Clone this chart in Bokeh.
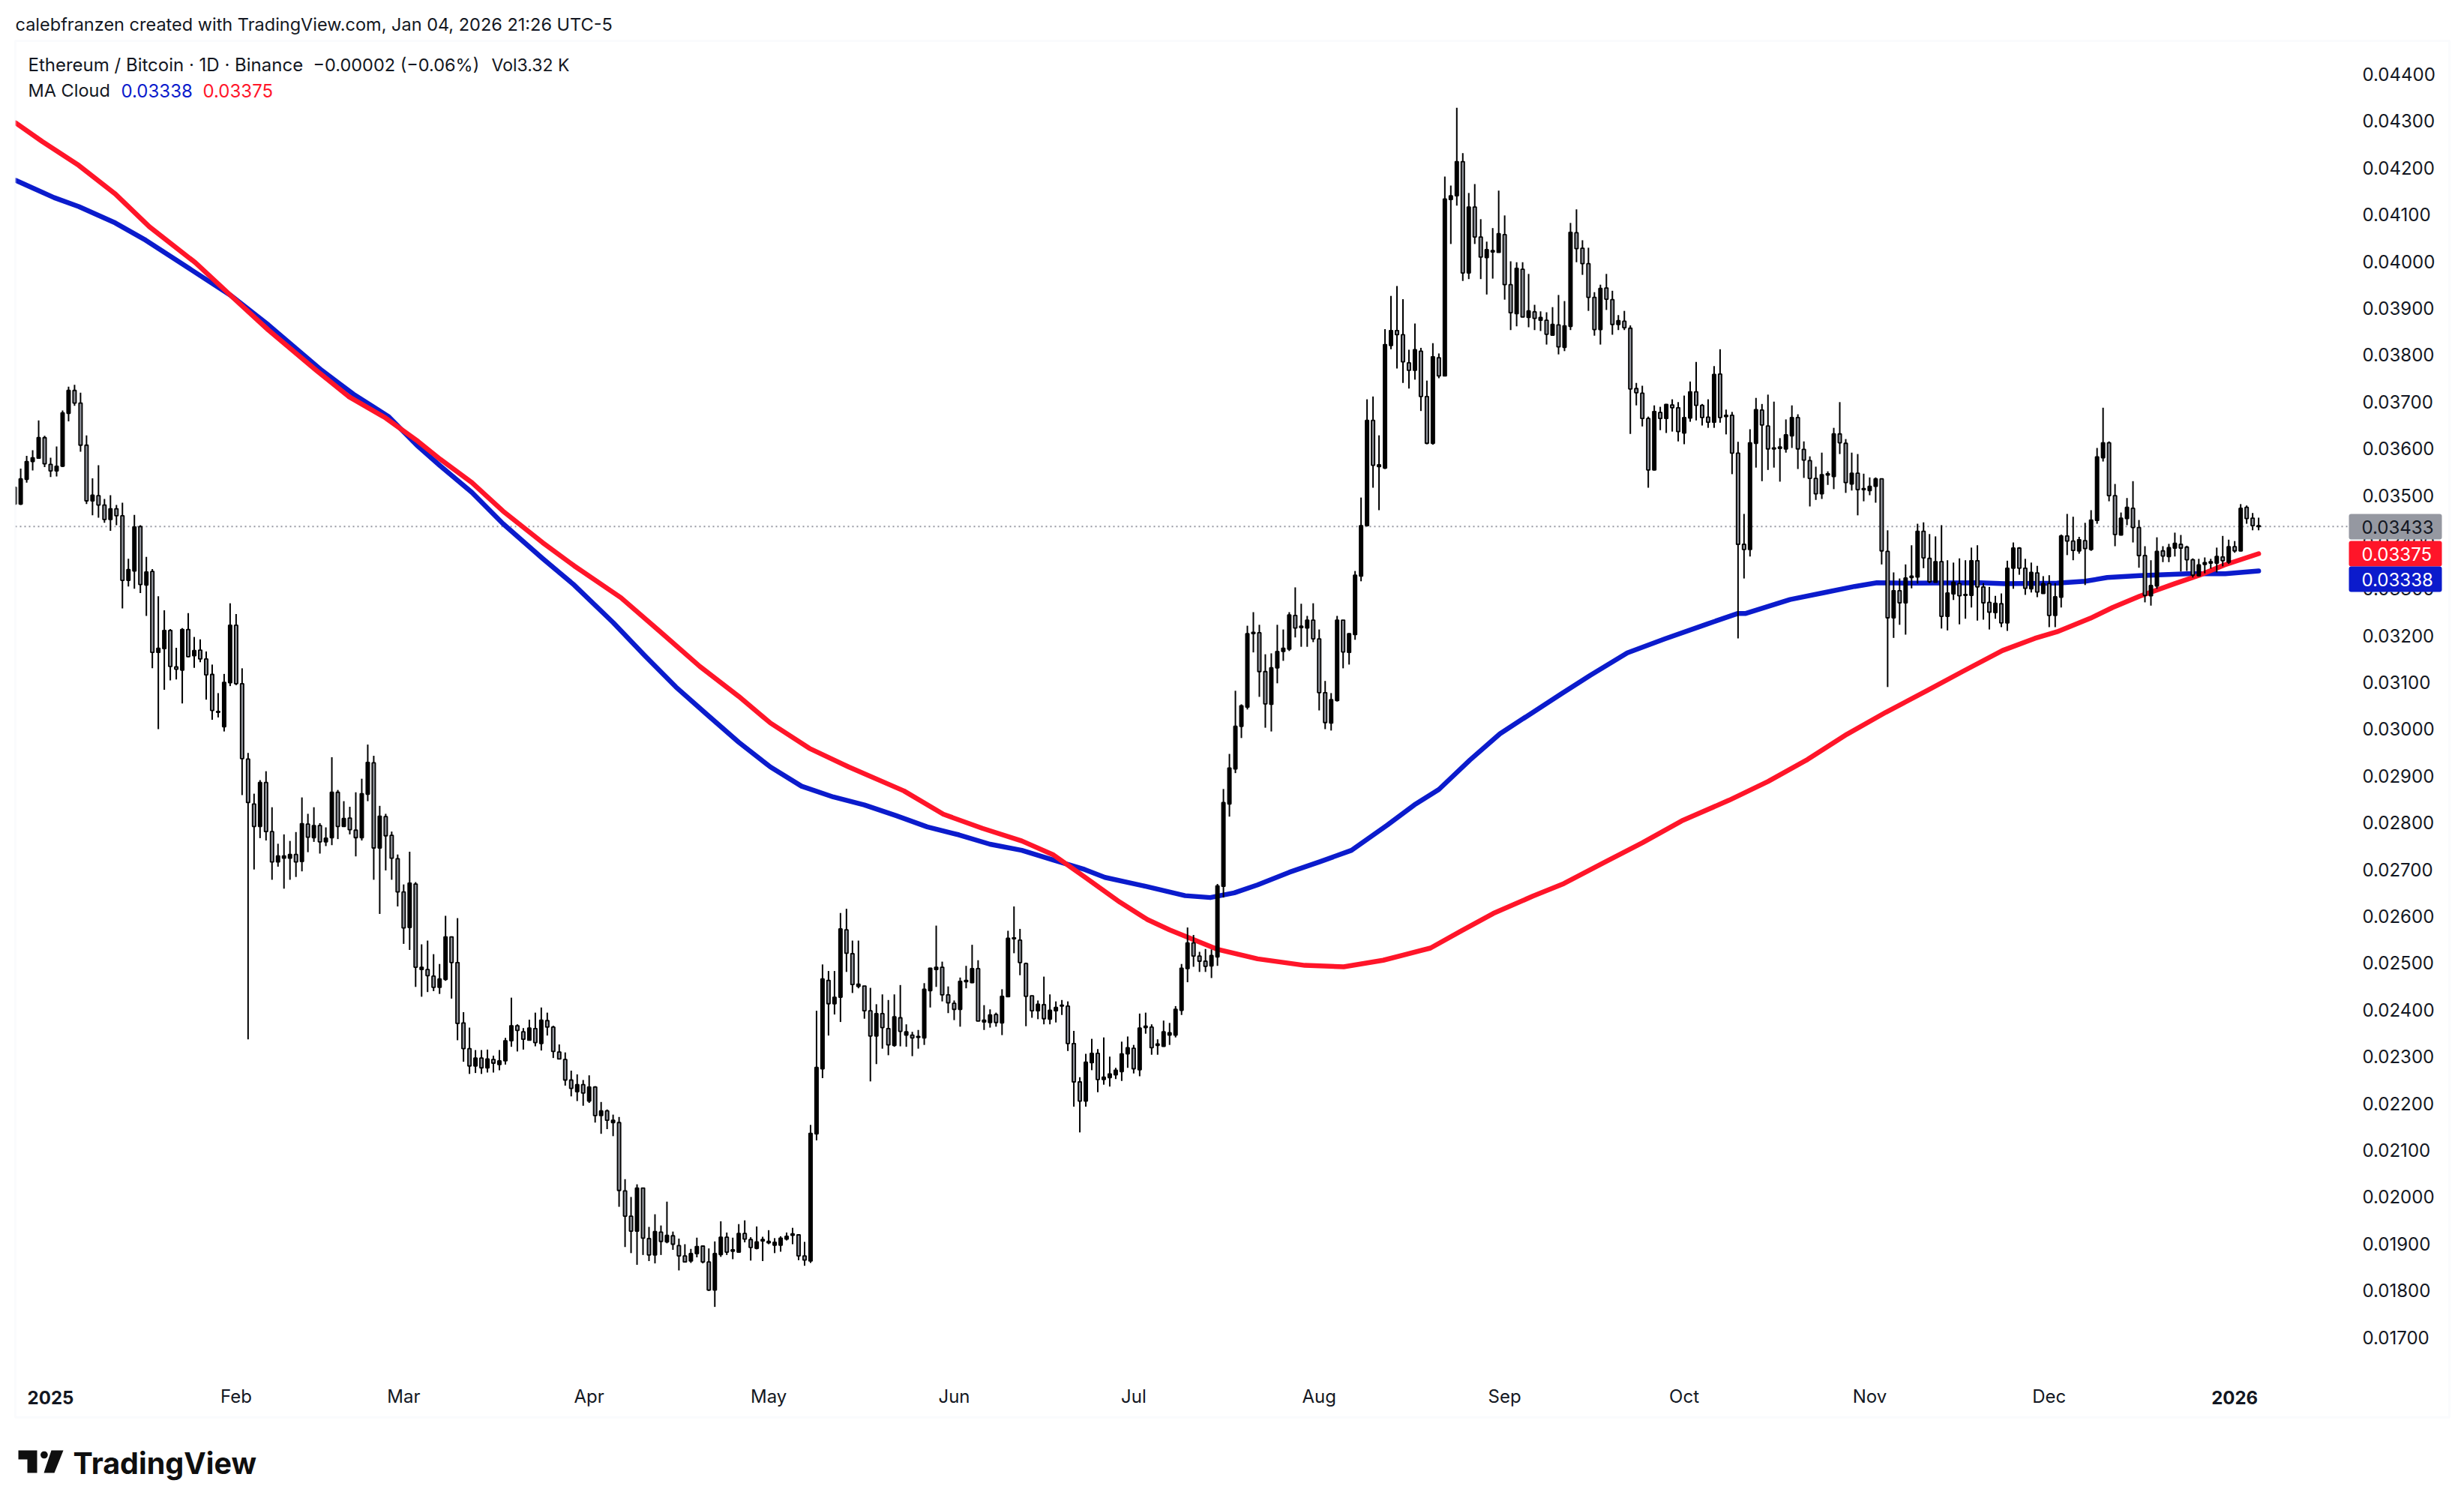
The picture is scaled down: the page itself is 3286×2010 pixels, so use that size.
import math
from bokeh.embed import file_html
from bokeh.resources import INLINE
from bokeh.plotting import figure
from bokeh.models import (BoxAnnotation, ColumnDataSource, FixedTicker, Label,
                          NumeralTickFormatter, PolyAnnotation, Range1d)

UNIT = 1e-5  # all prices below are listed in 0.00001 BTC

FIRST_DAY = -1  # candle index, 0 = 27 Dec 2024
OPEN = [
 3481,3481,3534,3572,3579,3623,3566,3552,3562,3675,3724,3697,3607,3488,3499,3479,3448,3471,3456,3318,
 3338,3433,3308,3337,3164,3172,3211,3133,3126,3213,3157,3169,3150,3117,3036,3005,3099,3222,3097,2936,
 2840,2792,2886,2781,2716,2724,2724,2732,2717,2797,2768,2794,2759,2768,2865,2792,2810,2784,2768,2861,
 2928,2746,2813,2773,2723,2652,2576,2669,2486,2486,2472,2448,2465,2556,2501,2372,2317,2280,2297,2276,
 2294,2283,2291,2334,2366,2353,2335,2360,2328,2377,2363,2310,2294,2250,2225,2240,2205,2235,2174,2184,
 2159,2159,2013,1959,1927,2019,1911,1876,1925,1904,1917,1896,1874,1863,1879,1895,1861,1801,1877,1914,
 1884,1882,1922,1909,1890,1906,1902,1897,1897,1910,1918,1919,1874,1863,2135,2274,2463,2413,2427,2571,
 2520,2450,2451,2398,2344,2392,2360,2324,2383,2346,2346,2341,2340,2441,2486,2491,2432,2414,2401,2460,
 2458,2488,2374,2373,2390,2372,2428,2552,2549,2499,2430,2398,2411,2380,2398,2408,2408,2328,2246,2205,
 2287,2307,2251,2255,2261,2268,2306,2318,2272,2362,2363,2324,2322,2346,2346,2399,2488,2543,2515,2504,
 2494,2513,2664,2840,2915,3006,3047,3204,3206,3123,3053,3131,3166,3171,3243,3217,3216,3233,3193,3078,
 3013,3061,3233,3164,3202,3327,3435,3660,3561,3558,3820,3852,3843,3783,3767,3808,3711,3611,3794,3755,
 4132,4140,4213,3975,4116,4052,4008,4020,4019,4057,3950,3888,3983,3880,3892,3874,3874,3842,3864,3816,
 3861,4061,4028,3995,3923,3854,3943,3918,3865,3872,3857,3728,3718,3664,3554,3677,3664,3693,3687,3633,
 3665,3721,3692,3667,3656,3759,3668,3671,3590,3395,3384,3611,3682,3648,3599,3600,3599,3627,3666,3598,
 3574,3536,3503,3543,3540,3631,3611,3524,3547,3512,3510,3519,3535,3380,3238,3296,3270,3324,3325,3423,
 3365,3314,3358,3241,3289,3311,3286,3286,3360,3304,3271,3249,3268,3227,3344,3387,3344,3300,3334,3290,
 3311,3243,3282,3413,3402,3381,3403,3384,3446,3580,3612,3499,3415,3450,3472,3431,3371,3285,3306,3381,
 3369,3387,3395,3389,3362,3328,3352,3355,3355,3368,3357,3390,3381,3474,3451,3435,
]
HIGH = [
 3517,3557,3584,3596,3660,3627,3580,3604,3681,3732,3736,3719,3628,3536,3564,3492,3500,3479,3484,3364,
 3458,3436,3368,3342,3284,3254,3214,3174,3216,3248,3197,3192,3166,3138,3077,3118,3269,3246,3130,2949,
 2862,2891,2910,2833,2755,2775,2761,2780,2854,2819,2833,2799,2790,2940,2870,2846,2834,2865,2894,2967,
 2943,2836,2819,2781,2732,2668,2738,2673,2540,2548,2519,2498,2601,2557,2596,2395,2362,2314,2314,2315,
 2302,2314,2340,2426,2369,2361,2379,2394,2405,2394,2366,2326,2309,2270,2262,2250,2260,2237,2203,2187,
 2176,2171,2038,2000,2027,2019,1936,1963,1939,1990,1926,1911,1899,1889,1913,1895,1890,1905,1948,1924,
 1913,1942,1950,1914,1937,1915,1929,1912,1916,1924,1934,1920,1904,2154,2398,2497,2483,2483,2607,2616,
 2548,2548,2451,2447,2412,2433,2421,2433,2453,2369,2353,2357,2457,2490,2580,2503,2450,2420,2469,2494,
 2539,2506,2410,2401,2394,2444,2569,2621,2573,2501,2430,2420,2471,2433,2418,2421,2418,2355,2256,2306,
 2338,2316,2341,2300,2276,2332,2343,2325,2392,2394,2369,2337,2377,2372,2408,2498,2576,2560,2524,2530,
 2529,2669,2872,2947,3082,3053,3221,3250,3223,3160,3162,3223,3213,3250,3303,3268,3242,3269,3213,3103,
 3077,3242,3233,3205,3338,3495,3705,3711,3628,3855,3926,3947,3919,3811,3867,3815,3745,3825,3803,4181,
 4162,4328,4231,4146,4165,4090,4042,4071,4151,4098,4000,3998,3998,3973,3907,3893,3891,3902,3928,3915,
 4082,4111,4045,4029,3934,3950,3973,3937,3885,3894,3863,3740,3734,3668,3692,3689,3695,3705,3699,3713,
 3743,3785,3695,3705,3776,3812,3683,3678,3614,3460,3641,3708,3695,3715,3700,3622,3662,3692,3673,3615,
 3583,3561,3591,3551,3644,3699,3620,3591,3588,3546,3538,3538,3536,3425,3335,3322,3352,3393,3439,3442,
 3417,3412,3436,3361,3356,3365,3361,3388,3393,3312,3304,3285,3290,3360,3399,3389,3364,3356,3349,3327,
 3329,3312,3416,3460,3454,3411,3441,3468,3601,3687,3615,3524,3463,3494,3530,3447,3391,3361,3410,3391,
 3396,3420,3415,3392,3365,3364,3367,3364,3388,3413,3405,3402,3481,3478,3462,3452,
]
LOW = [
 3481,3479,3527,3553,3579,3560,3539,3540,3560,3658,3691,3593,3481,3457,3452,3441,3424,3436,3258,3305,
 3300,3291,3242,3130,3000,3084,3104,3106,3055,3154,3131,3143,3063,3020,3025,2995,3092,3094,2859,2337,
 2700,2767,2762,2678,2706,2659,2678,2684,2696,2737,2759,2734,2750,2752,2765,2792,2775,2728,2762,2846,
 2678,2605,2698,2678,2621,2541,2528,2449,2428,2438,2440,2434,2462,2424,2335,2289,2263,2265,2263,2266,
 2266,2271,2283,2321,2311,2315,2335,2322,2313,2345,2297,2295,2238,2215,2205,2195,2201,2159,2135,2145,
 2130,1979,1893,1880,1855,1876,1863,1858,1876,1901,1887,1843,1860,1859,1871,1858,1799,1765,1872,1876,
 1867,1882,1903,1864,1888,1863,1899,1880,1883,1907,1899,1865,1853,1859,2121,2254,2345,2390,2374,2481,
 2436,2446,2381,2247,2284,2317,2303,2321,2322,2321,2301,2317,2325,2405,2449,2418,2393,2378,2364,2446,
 2457,2376,2357,2362,2364,2346,2428,2521,2474,2365,2383,2380,2369,2369,2373,2389,2312,2193,2138,2193,
 2271,2224,2240,2236,2252,2248,2276,2264,2258,2349,2304,2304,2321,2325,2341,2389,2459,2492,2481,2481,
 2468,2494,2640,2813,2906,2981,3042,3164,3069,3003,2995,3098,3146,3167,3196,3176,3176,3186,3040,3000,
 2997,3059,3130,3138,3191,3316,3433,3516,3468,3556,3812,3771,3740,3728,3747,3680,3609,3608,3750,3754,
 4037,4119,3958,3962,4037,3962,3929,3963,4019,3918,3853,3861,3881,3859,3853,3851,3822,3842,3801,3808,
 3853,3998,3971,3894,3841,3822,3896,3843,3853,3853,3631,3692,3647,3516,3553,3639,3633,3636,3615,3609,
 3657,3660,3649,3644,3644,3655,3630,3545,3194,3322,3369,3559,3530,3554,3559,3529,3591,3601,3556,3537,
 3476,3490,3492,3522,3513,3588,3505,3510,3457,3487,3500,3484,3352,3090,3195,3223,3202,3301,3311,3344,
 3312,3314,3215,3211,3276,3224,3236,3260,3232,3234,3213,3236,3218,3210,3300,3330,3287,3292,3282,3290,
 3218,3218,3260,3372,3361,3375,3308,3381,3439,3572,3487,3391,3414,3436,3399,3345,3271,3264,3300,3357,
 3357,3369,3337,3338,3324,3326,3333,3343,3335,3348,3353,3377,3380,3439,3425,3425,
]
CLOSE = [
 3517,3535,3572,3580,3623,3567,3552,3562,3676,3724,3697,3607,3488,3500,3479,3448,3471,3456,3318,3341,
 3432,3309,3336,3164,3173,3211,3134,3128,3213,3155,3168,3150,3116,3040,3038,3100,3222,3097,2937,2843,
 2792,2886,2781,2716,2729,2729,2732,2716,2798,2769,2794,2759,2767,2865,2792,2809,2785,2768,2862,2929,
 2746,2814,2772,2724,2652,2575,2671,2491,2491,2473,2448,2466,2556,2501,2371,2317,2280,2297,2276,2295,
 2286,2291,2334,2366,2356,2337,2361,2330,2378,2363,2311,2295,2250,2232,2240,2222,2235,2174,2184,2164,
 2164,2014,1959,1927,2019,1912,1876,1926,1905,1918,1899,1874,1861,1879,1894,1861,1801,1879,1914,1882,
 1887,1922,1910,1892,1904,1909,1905,1903,1912,1916,1921,1874,1865,2136,2277,2466,2413,2427,2573,2521,
 2454,2455,2398,2344,2392,2362,2325,2385,2354,2353,2340,2343,2444,2489,2491,2432,2415,2401,2461,2463,
 2488,2376,2378,2389,2373,2429,2553,2554,2501,2429,2398,2412,2381,2399,2405,2410,2328,2246,2205,2288,
 2307,2251,2256,2263,2271,2306,2319,2274,2361,2365,2319,2327,2353,2351,2401,2489,2543,2515,2504,2493,
 2516,2665,2843,2917,3006,3050,3204,3207,3123,3054,3131,3166,3173,3244,3216,3220,3233,3193,3078,3014,
 3063,3233,3165,3204,3329,3435,3660,3564,3565,3822,3852,3843,3785,3767,3811,3711,3611,3796,3755,4133,
 4140,4213,3975,4116,4052,4009,4025,4023,4059,3950,3890,3985,3881,3894,3878,3880,3844,3865,3817,3862,
 4062,4027,3995,3923,3854,3942,3919,3865,3873,3858,3727,3719,3664,3554,3679,3664,3694,3687,3636,3666,
 3721,3692,3666,3656,3758,3666,3671,3590,3395,3384,3612,3683,3650,3599,3601,3603,3629,3666,3599,3575,
 3536,3503,3544,3546,3631,3612,3527,3547,3512,3514,3519,3535,3381,3238,3296,3270,3323,3327,3423,3366,
 3315,3358,3241,3291,3314,3285,3288,3360,3304,3270,3250,3269,3227,3344,3387,3344,3301,3335,3293,3311,
 3243,3283,3413,3402,3382,3405,3386,3447,3582,3612,3499,3416,3451,3474,3431,3371,3286,3307,3380,3370,
 3388,3397,3387,3362,3329,3351,3356,3358,3369,3360,3390,3381,3472,3450,3435,3433,
]

BLUE_DAY = [-0.84,5.6,9.7,15.8,20.9,28.6,35,41.4,50.3,55.6,61.5,66.2,70.1,75.4,80.6,87.2,92.5,99,104.3,109.5,
            114.8,120,125.3,130.5,135.8,141,146.3,151.5,156.8,162,167.3,172.6,177.8,181.2,188,194.6,198.8,202.8,
            206.7,212,217.2,222.4,228.4,232.9,237,242.2,247.2,252.6,257.4,262.3,268.5,274.8,281.9,286.9,288.2,
            295.7,301.5,306.5,310.2,316.5,327.4,331.6,340.3,345,348.7,354.1,362.1,368.4,374]
BLUE_MA = [4173,4136,4117,4082,4045,3981,3928,3864,3767,3716,3668,3607,3563,3506,3439,3365,3308,3228,3157,3090,
           3030,2972,2919,2878,2855,2838,2815,2791,2774,2754,2741,2720,2700,2683,2664,2644,2640,2650,2667,2694,
           2717,2741,2795,2838,2871,2934,2990,3035,3075,3115,3163,3193,3225,3247,3247,3277,3292,3305,3313,3312,
           3313,3311,3312,3316,3324,3328,3332,3332,3338]
RED_DAY = [-0.84,3.6,9.7,15.8,21.5,29.2,35,41.4,49.4,54.8,61,66.4,70.1,75.4,80.6,87.2,92.5,100.3,106.9,113.5,
           120,125.3,131.8,138.4,147.6,154.2,160.7,167.3,172.6,177.8,183.7,188.3,192,200.1,206.7,214.6,221.1,
           227.7,235.6,240.8,246.1,252.7,257.9,264.5,271,277.6,285.5,292,298.6,305.2,311.7,318.7,324.5,331.2,
           336.6,340.3,345.9,349.6,354.1,360,364.1,368.3,374]
RED_MA = [4296,4256,4205,4144,4074,3997,3928,3853,3767,3711,3665,3615,3577,3527,3466,3399,3349,3281,3208,3134,
          3070,3013,2959,2919,2868,2818,2788,2761,2731,2684,2630,2593,2571,2529,2509,2495,2492,2506,2532,2569,
          2606,2643,2670,2714,2757,2804,2848,2888,2935,2989,3036,3083,3123,3168,3194,3208,3237,3260,3284,3311,
          3329,3351,3375]

Y_TICKS = [0.017,0.018,0.019,0.020,0.021,0.022,0.023,0.024,0.025,0.026,0.027,0.028,0.029,0.030,
           0.031,0.032,0.033,0.034,0.035,0.036,0.037,0.038,0.039,0.040,0.041,0.042,0.043,0.044]
MONTH_DAY = [36,64,95,125,156,186,217,248,278,309,339]
MONTH_NAME = ["Feb","Mar","Apr","May","Jun","Jul","Aug","Sep","Oct","Nov","Dec"]
YEAR_DAY = [5,370]
YEAR_NAME = ["2025","2026"]
LAST_PRICE, MA_LOW, MA_HIGH = 0.03433, 0.03338, 0.03375

assert len(OPEN) == len(HIGH) == len(LOW) == len(CLOSE) == 376
assert len(BLUE_DAY) == len(BLUE_MA) and len(RED_DAY) == len(RED_MA)

BLUE, RED, INK = "#0B1BCC", "#FF1529", "#131722"
FONT = "Inter"
W, H = 3280, 2000

PX_PER_DAY = 7.98
X0 = 27.1  # page px of day 0
def px_x(d): return X0 + d * PX_PER_DAY
def day_at(X): return (X - X0) / PX_PER_DAY
def price_at(Y): return (3500 - (Y - 660) * 1.6026) * UNIT

# the frame fills the whole canvas, so captions and tags can sit anywhere on it
p = figure(width=W, height=H, output_backend="svg", toolbar_location=None,
           x_range=Range1d(day_at(0), day_at(W)), y_range=Range1d(price_at(H), price_at(0)),
           min_border=0, x_axis_location="below", y_axis_location="right",
           background_fill_color="white", border_fill_color="white", outline_line_color=None)
p.grid.visible = False

yax = p.yaxis[0]
yax.ticker = FixedTicker(ticks=Y_TICKS)
yax.formatter = NumeralTickFormatter(format="0.00000")
yax.fixed_location = day_at(3132)
xax = p.xaxis[0]
xax.ticker = FixedTicker(ticks=MONTH_DAY)
xax.major_label_overrides = {d: n for d, n in zip(MONTH_DAY, MONTH_NAME)}
xax.fixed_location = price_at(1829)
for ax in (xax, yax):
    ax.axis_line_color = None
    ax.major_tick_line_color = None
    ax.minor_tick_line_color = None
    ax.major_label_text_font = FONT
    ax.major_label_text_font_size = "24px"
    ax.major_label_text_color = INK
yax.major_label_standoff = 12
xax.major_label_standoff = 12

days = [FIRST_DAY + i for i in range(len(OPEN))]
src = ColumnDataSource(dict(
    day=days,
    high=[v * UNIT for v in HIGH], low=[v * UNIT for v in LOW],
    top=[max(o, c) * UNIT for o, c in zip(OPEN, CLOSE)],
    bottom=[min(o, c) * UNIT for o, c in zip(OPEN, CLOSE)],
    fill=["#000000" if c >= o else "#8E9199" for o, c in zip(OPEN, CLOSE)],
))

p.line([day_at(20), day_at(3132)], [LAST_PRICE, LAST_PRICE], line_color="#9598A1",
       line_width=2, line_dash=[2, 4])
p.line(BLUE_DAY, [v * UNIT for v in BLUE_MA], line_color=BLUE, line_width=6.5,
       line_join="round", line_cap="round")
p.line(RED_DAY, [v * UNIT for v in RED_MA], line_color=RED, line_width=6.5,
       line_join="round", line_cap="round")
p.segment("day", "high", "day", "low", source=src, line_color="#000000", line_width=2)
p.vbar(x="day", top="top", bottom="bottom", width=4.2 / PX_PER_DAY, source=src,
       fill_color="fill", line_color="#000000", line_width=1.8)

def box(X1, Y1, X2, Y2, color, radius=3):
    p.add_layout(BoxAnnotation(left=X1, right=X2, top=Y1, bottom=Y2,
                               left_units="canvas", right_units="canvas", top_units="canvas",
                               bottom_units="canvas", fill_color=color, fill_alpha=1,
                               line_color=None, border_radius=radius, level="annotation"))

def text(X, Y, s, color=INK, size=24, style="normal", font=FONT, align="left"):
    p.add_layout(Label(x=day_at(X), y=price_at(Y), text=s, text_color=color,
                       text_font=font, text_font_size=f"{size}px", text_font_style=style,
                       text_baseline="middle", text_align=align))

# mask left of the pane, then the frame around the pane
box(0, 0, 20, H, "#FFFFFF", 0)
p.add_layout(BoxAnnotation(left=20, right=3266, top=54, bottom=1890,
                           left_units="canvas", right_units="canvas", top_units="canvas",
                           bottom_units="canvas", fill_alpha=0, line_color="#F0F3FA", line_width=3,
                           level="annotation"))

# last-value tags
box(3132, 685, 3256, 719, "#9598A1")
box(3132, 721, 3256, 755, RED)
box(3132, 755, 3256, 789, BLUE)
text(3149, 702, f"{LAST_PRICE:.5f}", INK, 24)
text(3149, 738, f"{MA_HIGH:.5f}", "#FFFFFF", 24)
text(3149, 772, f"{MA_LOW:.5f}", "#FFFFFF", 24)

# year labels on the time axis
for d, n in zip(YEAR_DAY, YEAR_NAME):
    text(px_x(d), 1863, n, INK, 24, "bold", align="center")

# captions
text(20, 32, "calebfranzen created with TradingView.com, Jan 04, 2026 21:26 UTC-5", INK, 23.5)
text(37, 86, "Ethereum / Bitcoin · 1D · Binance", INK, 24)
text(417, 86, "−0.00002 (−0.06%)", INK, 23.5)
text(655, 86, "Vol3.32 K", INK, 23)
text(37, 120, "MA Cloud", INK, 23.5)
text(161, 120, f"{MA_LOW:.5f}", BLUE, 24)
text(270, 120, f"{MA_HIGH:.5f}", RED, 24)

# TradingView logo
def poly(pts, color="#0F0F0F"):
    p.add_layout(PolyAnnotation(xs=[a for a, b in pts], ys=[b for a, b in pts],
                                xs_units="canvas", ys_units="canvas", fill_color=color,
                                fill_alpha=1, line_color=None, level="annotation"))
poly([(24, 1934), (49, 1934), (49, 1964), (36, 1964), (36, 1946), (24, 1946)])
poly([(58.4 + 4.8 * math.cos(t / 12 * math.pi), 1940 + 4.8 * math.sin(t / 12 * math.pi)) for t in range(24)])
poly([(68, 1934), (84, 1934), (72, 1964), (58, 1964)])
text(97, 1951, "TradingView", "#0F0F0F", 39.5, "bold")

open("out.html", "w").write(file_html(p, INLINE))
